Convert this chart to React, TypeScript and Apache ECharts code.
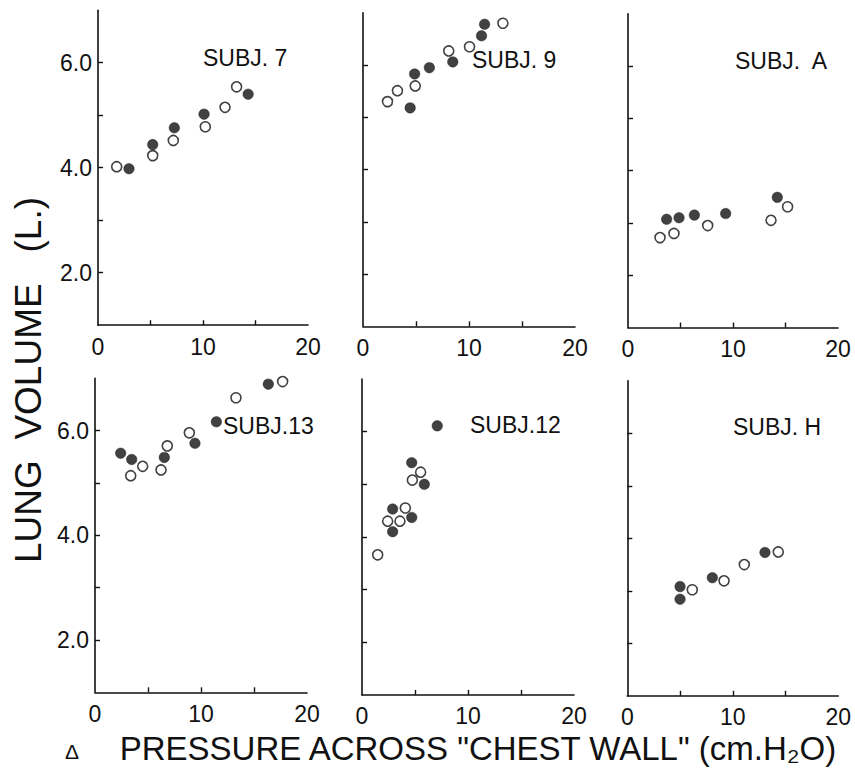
import React, { useEffect, useRef } from "react";
import * as echarts from "echarts";

// ---- Data (x: pressure across chest wall, cm H2O; y: lung volume, L) ----
const subj7Filled = [[2.95, 3.98], [5.21, 4.44], [7.27, 4.76], [10.1, 5.02], [14.3, 5.4]];
const subj7Open = [[1.78, 4.02], [5.21, 4.23], [7.17, 4.52], [10.22, 4.78], [12.1, 5.15], [13.2, 5.54]];

const subj9Filled = [[4.45, 5.18], [4.87, 5.83], [6.26, 5.95], [8.47, 6.06], [11.18, 6.56], [11.47, 6.78]];
const subj9Open = [[2.31, 5.3], [3.25, 5.51], [4.93, 5.6], [8.09, 6.27], [10.05, 6.35], [13.2, 6.8]];

const subjAFilled = [[3.68, 3.07], [4.86, 3.1], [6.32, 3.15], [9.3, 3.18], [14.22, 3.49]];
const subjAOpen = [[3.05, 2.72], [4.38, 2.8], [7.59, 2.95], [13.62, 3.05], [15.2, 3.31]];

const subj13Filled = [[2.42, 5.57], [3.46, 5.45], [6.54, 5.49], [9.43, 5.76], [11.45, 6.17], [16.35, 6.89]];
const subj13Open = [[3.37, 5.14], [4.5, 5.32], [6.23, 5.25], [6.82, 5.71], [8.9, 5.96], [13.3, 6.63], [17.7, 6.94]];

const subj12Filled = [[2.89, 4.53], [2.89, 4.1], [4.69, 4.37], [4.69, 5.41], [5.88, 5.0], [7.1, 6.11]];
const subj12Open = [[1.48, 3.66], [2.42, 4.3], [3.58, 4.3], [4.09, 4.55], [4.75, 5.08], [5.53, 5.23]];

const subjHFilled = [[5.0, 3.08], [5.0, 2.84], [8.06, 3.25], [13.05, 3.73]];
const subjHOpen = [[6.16, 3.02], [9.17, 3.19], [11.09, 3.5], [14.31, 3.74]];

const panelNames = ["SUBJ. 7", "SUBJ. 9", "SUBJ.  A", "SUBJ.13", "SUBJ.12", "SUBJ. H"];
const filledSets = [subj7Filled, subj9Filled, subjAFilled, subj13Filled, subj12Filled, subjHFilled];
const openSets = [subj7Open, subj9Open, subjAOpen, subj13Open, subj12Open, subjHOpen];

const xTickValues = [5, 10, 15];
const xLabelValues = [0, 10, 20];
const yTickValues = [2, 3, 4, 5, 6];
const yLabelValues = [2, 4, 6];

const yTitle = "LUNG  VOLUME   (L.)";
const xTitle = 'PRESSURE ACROSS "CHEST WALL" (cm.H\u2082O)';

// ---- Layout ----
const grids = [
  { left: 98, top: 10.2, width: 210, height: 315 },
  { left: 363, top: 12.8, width: 212, height: 313.5 },
  { left: 628, top: 13.7, width: 210, height: 313.9 },
  { left: 95, top: 378.4, width: 212, height: 313.9 },
  { left: 362, top: 379, width: 212, height: 315.9 },
  { left: 627.3, top: 380.8, width: 211, height: 315 },
];
const nameLabelPos = [
  [203, 58],
  [472, 60],
  [735, 61],
  [223, 426],
  [470, 425],
  [733, 427],
];

const FONT = "'Liberation Sans', Arial, sans-serif";
const INK = "#111";

export default function App() {
  const ref = useRef<HTMLDivElement>(null);
  useEffect(() => {
    if (!ref.current) return;
    const chart = echarts.init(ref.current, undefined, { renderer: "svg" });
    const xAxes: any[] = [];
    const yAxes: any[] = [];
    const series: any[] = [];
    grids.forEach((g, i) => {
      const firstCol = i % 3 === 0;
      xAxes.push({
        type: "value",
        gridIndex: i,
        min: 0,
        max: 20,
        interval: 5,
        axisLine: { show: true, onZero: false, lineStyle: { color: INK, width: 1.6 } },
        axisTick: { show: true, inside: true, length: 5, customValues: xTickValues, lineStyle: { color: INK, width: 1.4 } },
        axisLabel: {
          show: true,
          customValues: xLabelValues,
          margin: 10,
          color: INK,
          fontFamily: FONT,
          fontSize: 23,
          formatter: (v: number) => String(v),
        },
        splitLine: { show: false },
      });
      yAxes.push({
        type: "value",
        gridIndex: i,
        min: 1,
        max: 7,
        interval: 1,
        axisLine: { show: true, onZero: false, lineStyle: { color: INK, width: 1.6 } },
        axisTick: { show: true, inside: true, length: 5, customValues: yTickValues, lineStyle: { color: INK, width: 1.4 } },
        axisLabel: {
          show: firstCol,
          customValues: yLabelValues,
          margin: 6,
          color: INK,
          fontFamily: FONT,
          fontSize: 23,
          formatter: (v: number) => v.toFixed(1),
        },
        splitLine: { show: false },
      });
      series.push({
        type: "scatter",
        xAxisIndex: i,
        yAxisIndex: i,
        data: openSets[i],
        symbol: "circle",
        symbolSize: 10,
        itemStyle: { color: "#fff", borderColor: INK, borderWidth: 1.6 },
        z: 3,
      });
      series.push({
        type: "scatter",
        xAxisIndex: i,
        yAxisIndex: i,
        data: filledSets[i],
        symbol: "circle",
        symbolSize: 10.5,
        itemStyle: { color: INK, borderColor: INK, borderWidth: 0.5 },
        z: 4,
      });
    });

    const graphics: any[] = panelNames.map((name, i) => ({
      type: "text",
      x: nameLabelPos[i][0],
      y: nameLabelPos[i][1],
      style: {
        text: name,
        fill: INK,
        font: `23px ${FONT}`,
        textAlign: "left",
        textVerticalAlign: "middle",
      },
    }));
    graphics.push({
      type: "text",
      x: 28,
      y: 380,
      rotation: Math.PI / 2,
      style: {
        text: yTitle,
        fill: INK,
        font: `37px ${FONT}`,
        textAlign: "center",
        textVerticalAlign: "middle",
      },
    });
    graphics.push({
      type: "text",
      x: 72,
      y: 751,
      style: {
        text: "\u0394",
        fill: INK,
        font: `21px ${FONT}`,
        textAlign: "center",
        textVerticalAlign: "middle",
      },
    });
    graphics.push({
      type: "text",
      x: 478,
      y: 748,
      style: {
        text: xTitle,
        fill: INK,
        font: `33px ${FONT}`,
        textAlign: "center",
        textVerticalAlign: "middle",
      },
    });

    chart.setOption({
      animation: false,
      backgroundColor: "#fff",
      grid: grids.map((g) => ({ ...g, containLabel: false })),
      xAxis: xAxes,
      yAxis: yAxes,
      series,
      graphic: graphics,
    });
    return () => chart.dispose();
  }, []);
  return (
    <div
      ref={ref}
      style={{ position: "fixed", left: 0, top: 0, width: 855, height: 782, background: "#fff" }}
    />
  );
}
